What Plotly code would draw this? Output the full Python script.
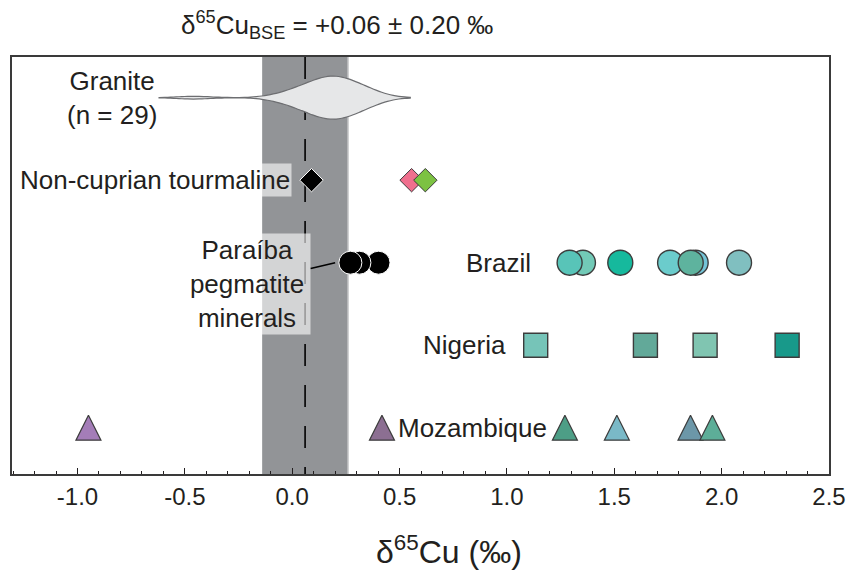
import plotly.graph_objects as go

# Bulk silicate Earth reference value (mean and 2 s.d.)
bse_mean = 0.06
bse_2sd = 0.20

# Granite compilation (n = 29), delta65Cu in permil
granite = [-0.46, -0.07, -0.01, 0.02, 0.04, 0.06, 0.08, 0.10, 0.11, 0.13,
           0.14, 0.15, 0.16, 0.17, 0.18, 0.19, 0.20, 0.21, 0.22, 0.23,
           0.24, 0.25, 0.27, 0.28, 0.30, 0.32, 0.34, 0.36, 0.39]

# Non-cuprian tourmaline
tourmaline_black = [0.09]
tourmaline_colored = [0.556, 0.62]
tourmaline_colors = ["#ef6f8e", "#7cc242"]

# Paraíba pegmatite minerals
paraiba = [0.402, 0.313, 0.271]

# Cuprian tourmaline by locality
brazil = [1.354, 1.292, 1.528, 1.760, 1.879, 1.856, 2.081]
brazil_colors = ["#72cab7", "#58c4b8", "#16b99d", "#6bcccc", "#74c4d7", "#5eb39e", "#80bfc0"]

nigeria = [1.134, 1.645, 1.923, 2.305]
nigeria_colors = ["#76c4b8", "#62a999", "#80c5b1", "#18998a"]

mozambique = [-0.949, 0.418, 1.27, 1.512, 1.855, 1.957]
mozambique_colors = ["#a47db8", "#8c6f92", "#4d9e86", "#7ab9c7", "#6c97a8", "#5dae98"]

tick_values = [-1.0, -0.5, 0.0, 0.5, 1.0, 1.5, 2.0, 2.5]
tick_labels = ["-1.0", "-0.5", "0.0", "0.5", "1.0", "1.5", "2.0", "2.5"]

# vertical slot of each group
row = {"granite": 5, "tourmaline": 4, "paraiba": 3, "brazil": 3, "nigeria": 2, "mozambique": 1}

FONT = "Liberation Sans, Arial, sans-serif"
INK = "#231f20"
EDGE = "#3c3c3c"

fig = go.Figure()

fig.add_trace(go.Violin(
    x=granite, y0=row["granite"], orientation="h", side="both",
    width=0.52, bandwidth=0.08, spanmode="soft",
    fillcolor="#e6e7e8", line=dict(color="#6d6e71", width=1.2),
    points=False, box_visible=False, meanline_visible=False,
    hoverinfo="skip", showlegend=False,
))

fig.add_trace(go.Scatter(
    x=tourmaline_colored, y=[row["tourmaline"]] * len(tourmaline_colored),
    mode="markers", showlegend=False, hoverinfo="skip",
    marker=dict(symbol="diamond", size=18, color=tourmaline_colors,
                line=dict(color=EDGE, width=1)),
))
fig.add_trace(go.Scatter(
    x=tourmaline_black, y=[row["tourmaline"]] * len(tourmaline_black),
    mode="markers", showlegend=False, hoverinfo="skip",
    marker=dict(symbol="diamond", size=18, color="black",
                line=dict(color="white", width=1)),
))

fig.add_trace(go.Scatter(
    x=paraiba, y=[row["paraiba"]] * len(paraiba),
    mode="markers", showlegend=False, hoverinfo="skip",
    marker=dict(symbol="circle", size=23, color="black",
                line=dict(color="white", width=1)),
))

fig.add_trace(go.Scatter(
    x=brazil, y=[row["brazil"]] * len(brazil),
    mode="markers", showlegend=False, hoverinfo="skip",
    marker=dict(symbol="circle", size=25, color=brazil_colors,
                line=dict(color=EDGE, width=1.4)),
))

fig.add_trace(go.Scatter(
    x=nigeria, y=[row["nigeria"]] * len(nigeria),
    mode="markers", showlegend=False, hoverinfo="skip",
    marker=dict(symbol="square", size=24, color=nigeria_colors,
                line=dict(color=EDGE, width=1.4)),
))

# upward triangle centred on the point: flipped arrow marker pushed back by half its size
fig.add_trace(go.Scatter(
    x=mozambique, y=[row["mozambique"]] * len(mozambique),
    mode="markers", showlegend=False, hoverinfo="skip",
    marker=dict(symbol="arrow-down", size=25, angle=180, standoff=12.5,
                color=mozambique_colors, line=dict(color=EDGE, width=1.2)),
))

# BSE band and mean
fig.add_shape(type="rect", xref="x", yref="paper",
              x0=bse_mean - bse_2sd, x1=bse_mean + bse_2sd, y0=0, y1=1,
              fillcolor="#929497", line=dict(width=0), layer="below")
fig.add_shape(type="line", xref="x", yref="paper",
              x0=bse_mean + bse_2sd, x1=bse_mean + bse_2sd, y0=0, y1=1,
              line=dict(color="#c4c5c7", width=1.5), layer="below")
fig.add_shape(type="line", xref="x", yref="paper",
              x0=bse_mean, x1=bse_mean, y0=1, y1=0,
              line=dict(color="black", width=1.6, dash="22px,19px"), layer="below")

label_font = dict(family=FONT, size=26, color=INK)
box = "rgba(255,255,255,0.6)"

fig.add_annotation(x=-0.837, y=row["granite"], xref="x", yref="y",
                   text="Granite<br>(n = 29)", showarrow=False, font=label_font)
fig.add_annotation(x=0.0, y=row["tourmaline"], xref="x", yref="y",
                   text="Non-cuprian tourmaline", showarrow=False, xanchor="right",
                   font=label_font, bgcolor=box, borderpad=1)
fig.add_annotation(x=0.2, y=row["paraiba"], xref="x", yref="y",
                   text="Paraíba<br>pegmatite<br>minerals", showarrow=True,
                   ax=-88, ay=21, arrowhead=0, arrowwidth=1.5, arrowcolor="black",
                   standoff=0, font=label_font, bgcolor=box, borderpad=1, width=124)
fig.add_annotation(x=1.122, y=row["brazil"], xref="x", yref="y",
                   text="Brazil", showarrow=False, xanchor="right", font=label_font)
fig.add_annotation(x=1.005, y=row["nigeria"], xref="x", yref="y",
                   text="Nigeria", showarrow=False, xanchor="right", font=label_font)
fig.add_annotation(x=1.194, y=row["mozambique"], xref="x", yref="y",
                   text="Mozambique", showarrow=False, xanchor="right", font=label_font)

# header and axis title
fig.add_annotation(x=0.398, y=1.077, xref="paper", yref="paper",
                   xanchor="center", yanchor="middle",
                   text="δ<sup>65</sup>Cu<sub>BSE</sub> = +0.06 ± 0.20 ‰",
                   showarrow=False, font=dict(family=FONT, size=26, color=INK))
fig.add_annotation(x=0.535, y=-0.182, xref="paper", yref="paper",
                   xanchor="center", yanchor="middle",
                   text="δ<sup>65</sup>Cu (‰)", showarrow=False,
                   font=dict(family=FONT, size=32, color=INK))

fig.update_layout(
    width=858, height=571,
    margin=dict(l=12, r=25, t=57, b=97),
    paper_bgcolor="white", plot_bgcolor="white",
    font=dict(family=FONT, color=INK),
    showlegend=False,
    xaxis=dict(range=[-1.305, 2.5], showgrid=False, zeroline=False,
               showline=True, linecolor="#3a3a3a", linewidth=1.6, mirror=True,
               tickmode="array", tickvals=tick_values, ticktext=tick_labels,
               ticks="inside", ticklen=6, tickwidth=1.4, tickcolor=INK,
               tickfont=dict(family=FONT, size=24, color=INK),
               minor=dict(tickmode="linear", tick0=0, dtick=0.1, ticks="inside",
                          ticklen=3, tickwidth=1.2, tickcolor=INK)),
    yaxis=dict(range=[0.439, 5.493], showgrid=False, zeroline=False,
               showline=True, linecolor="#3a3a3a", linewidth=1.6, mirror=True,
               showticklabels=False, ticks=""),
)

fig.write_html("out.html")
